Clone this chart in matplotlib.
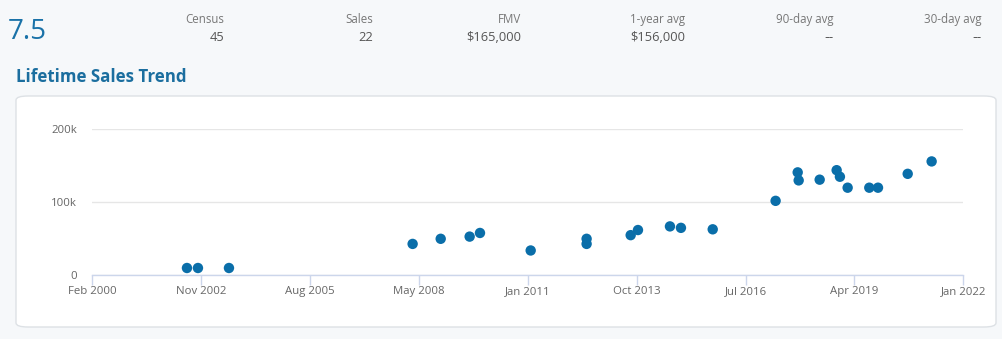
import pandas as pd
import matplotlib.pyplot as plt
from matplotlib.patches import FancyBboxPatch
from matplotlib.ticker import FuncFormatter

# sale dates and prices (USD)
sale_dates = ['2002-06-20', '2002-09-29', '2003-07-11', '2008-02-23', '2008-11-07',
              '2009-07-31', '2009-11-03', '2011-02-12', '2012-07-10', '2012-07-10',
              '2013-08-19', '2013-10-25', '2014-08-15', '2014-11-24', '2015-09-12',
              '2017-04-12', '2017-11-01', '2017-11-10', '2018-05-22', '2018-10-25',
              '2018-11-24', '2019-02-03', '2019-08-21', '2019-11-09', '2020-08-08',
              '2021-03-16']
sale_prices = [10000, 10000, 10000, 43000, 50000, 53000, 58000, 34000, 50000, 43000,
               55000, 62000, 67000, 65000, 63000, 102000, 141000, 130000, 131000, 144000,
               135000, 120000, 120000, 120000, 139000, 156000]

stat_labels = ['Census', 'Sales', 'FMV', '1-year avg', '90-day avg', '30-day avg']
stat_values = ['45', '22', '$165,000', '$156,000', '--', '--']
score = '7.5'
chart_title = 'Lifetime Sales Trend'

tick_labels = ['Feb 2000', 'Nov 2002', 'Aug 2005', 'May 2008', 'Jan 2011',
               'Oct 2013', 'Jul 2016', 'Apr 2019', 'Jan 2022']

blue = '#0a6ea9'
W, H = 1003, 339

fig = plt.figure(figsize=(W / 100, H / 100), dpi=100)
fig.patch.set_facecolor('#f6f8fa')

# header row
fig.text(8 / W, 1 - 32 / H, score, fontsize=20, color='#1a72a8', family='Open Sans',
         va='center', ha='left')
stat_right = [224, 373, 521, 685, 834, 982]
for xr, lab, val in zip(stat_right, stat_labels, stat_values):
    fig.text(xr / W, 1 - 19.5 / H, lab, fontsize=8.3, color='#777777', family='Open Sans',
             ha='right', va='center')
    # the placeholder dashes read better in DejaVu
    fam = 'DejaVu Sans' if val == '--' else 'Open Sans'
    fig.text(xr / W, 1 - 37.5 / H, val, fontsize=9.3, color='#555555', family=fam,
             ha='right', va='center')

fig.text(16 / W, 1 - 77 / H, chart_title, fontsize=12.2, fontweight='bold', color='#1b6e9f',
         family='Open Sans', ha='left', va='center')

# white card behind the chart
card = FancyBboxPatch((16 / W, 1 - 327 / H), 980 / W, 231 / H,
                      boxstyle='round,pad=0,rounding_size=0.012',
                      transform=fig.transFigure, facecolor='white',
                      edgecolor='#dde1e5', linewidth=1, zorder=-5)
fig.patches.append(card)

ax = fig.add_axes([92.3 / W, 1 - 275.3 / H, 871 / W, 146 / H])
ax.set_facecolor('none')
ax.set_zorder(2)

dates = pd.to_datetime(sale_dates)
ax.scatter(dates, sale_prices, s=56, color=blue, edgecolors='none', zorder=3, clip_on=False)

start = pd.Timestamp('2000-02-01')
end = pd.Timestamp('2022-01-01')
ticks = pd.date_range(start, end, periods=len(tick_labels))
ax.set_xlim(start, end)
ax.set_xticks(ticks)
ax.set_xticklabels(tick_labels)

ax.set_ylim(0, 200000)
ax.set_yticks([0, 100000, 200000])
ax.yaxis.set_major_formatter(FuncFormatter(lambda v, p: '0' if v == 0 else f'{int(v / 1000)}k'))
ax.grid(axis='y', color='#e6e6e6', linewidth=1)
ax.set_axisbelow(True)

for side in ['top', 'right', 'left']:
    ax.spines[side].set_visible(False)
ax.spines['bottom'].set_color('#ccd6eb')
ax.spines['bottom'].set_linewidth(1)

ax.tick_params(axis='x', length=7.2, color='#ccd6eb', width=1, pad=0.5,
               labelsize=8.2, labelcolor='#666666')
ax.tick_params(axis='y', length=0, pad=11, labelsize=8.2, labelcolor='#666666')
for lab in ax.get_xticklabels() + ax.get_yticklabels():
    lab.set_family('Open Sans')

fig.savefig('out.png', dpi=100, facecolor=fig.get_facecolor())
